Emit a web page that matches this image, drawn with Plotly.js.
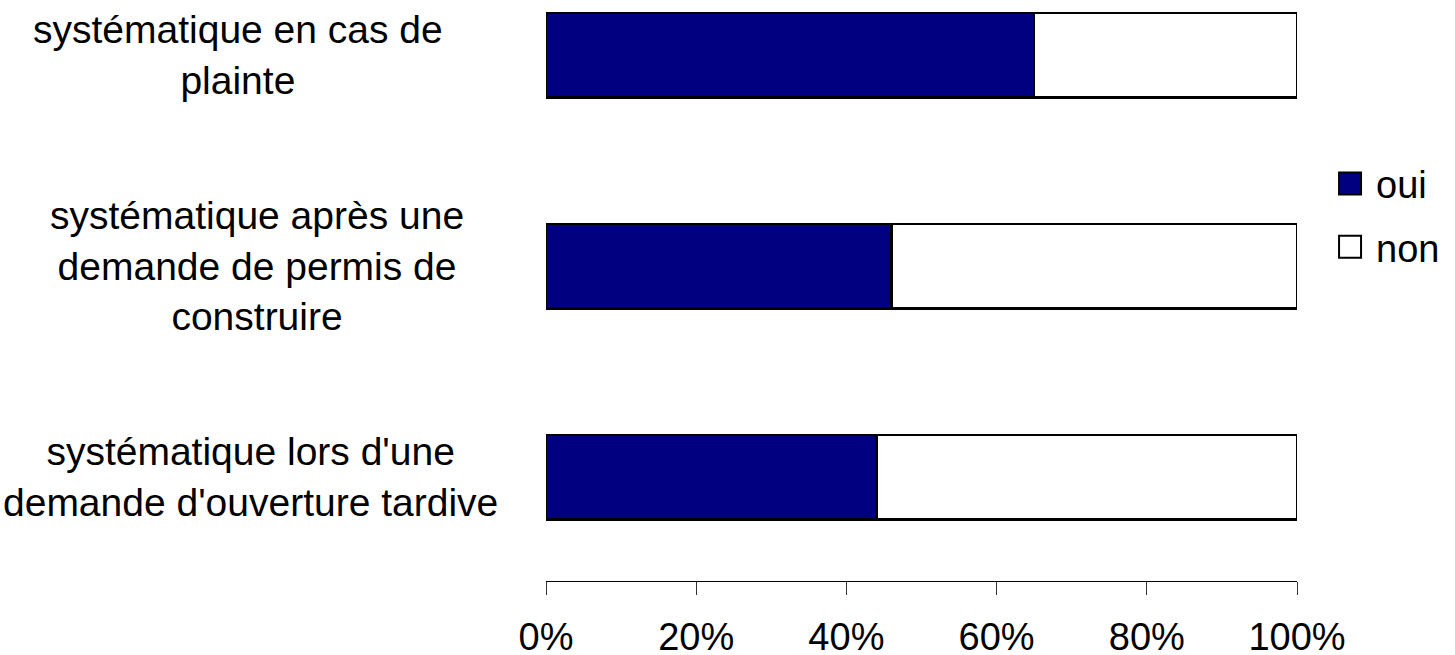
<!DOCTYPE html>
<html>
<head>
<meta charset="utf-8">
<script src="https://cdn.plot.ly/plotly-3.0.1.min.js"></script>
<style>html,body{margin:0;padding:0;background:#fff;}#chart{width:1455px;height:655px;}</style>
</head>
<body>
<div id="chart"></div>
<script>
const categories = [
  "systématique en cas de<br>plainte",
  "systématique après une<br>demande de permis de<br>construire",
  "systématique lors d'une<br>demande d'ouverture tardive"
];
const seriesNames = ["oui", "non"];
const ouiValues = [65, 46, 44];
const nonValues = [35, 54, 56];
const tickValues = [0, 20, 40, 60, 80, 100];
const tickLabels = ["0%", "20%", "40%", "60%", "80%", "100%"];

const FONT = "Liberation Sans, Arial, sans-serif";
const labelCentersPx = [238, 257, 250];
const PLOT_LEFT = 546, PLOT_W = 751;

const traces = [
  {
    type: "bar", orientation: "h", name: seriesNames[0], legendgroup: "g1",
    y: categories, x: ouiValues, width: 0.4,
    marker: {color: "#000080", line: {color: "#000000", width: 2.5}},
    hoverinfo: "x+name"
  },
  {
    type: "bar", orientation: "h", name: seriesNames[1], legendgroup: "g2",
    y: categories, x: nonValues, width: 0.4,
    marker: {color: "#ffffff", line: {color: "#000000", width: 2.5}},
    hoverinfo: "x+name"
  }
];

const annotations = categories.map(function(c, i){
  return {
    xref: "paper", yref: "y", x: (labelCentersPx[i] - PLOT_LEFT) / PLOT_W, y: c,
    text: c, showarrow: false, xanchor: "center", yanchor: "middle",
    align: "center", font: {family: FONT, size: 39, color: "#000"}
  };
});

const layout = {
  width: 1455, height: 655,
  margin: {l: 546, r: 158, t: 0, b: 74, pad: 0},
  paper_bgcolor: "#fff", plot_bgcolor: "#fff",
  barmode: "stack",
  showlegend: true,
  legend: {
    x: 1.052, xanchor: "left", y: 0.738, yanchor: "top",
    traceorder: "grouped", tracegroupgap: 11,
    font: {family: FONT, size: 38, color: "#000"},
    bgcolor: "rgba(0,0,0,0)", borderwidth: 0
  },
  xaxis: {
    range: [0, 100], tickvals: tickValues, ticktext: tickLabels,
    showgrid: false, zeroline: false,
    showline: true, linecolor: "#000", linewidth: 1,
    ticks: "outside", ticklen: 13, tickwidth: 1, tickcolor: "#333",
    ticklabelstandoff: 9,
    tickfont: {family: FONT, size: 38, color: "#000"},
    fixedrange: true
  },
  yaxis: {
    type: "category", categoryorder: "array", categoryarray: categories,
    range: [2.4915, -0.2607],
    showticklabels: false, showgrid: false, zeroline: false, showline: false,
    ticks: "", fixedrange: true
  },
  annotations: annotations
};

Plotly.newPlot("chart", traces, layout, {displayModeBar: false, staticPlot: true}).then(function(gd){
  gd.querySelectorAll(".legendpoints path").forEach(function(p){
    p.setAttribute("d", "M5,11H-17V-11H5Z");
    p.style.strokeWidth = "2px";
  });
});
</script>
</body>
</html>
